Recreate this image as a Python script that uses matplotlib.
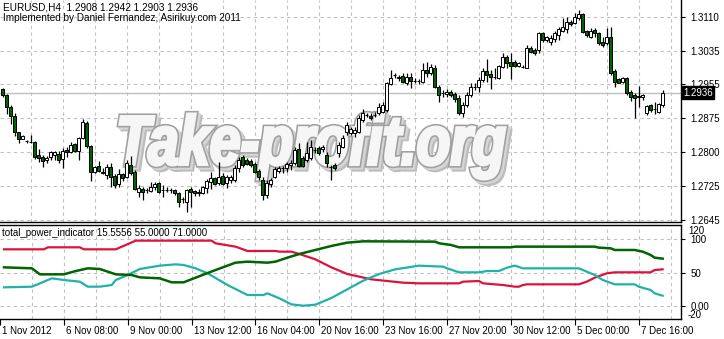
import numpy as np
import matplotlib.pyplot as plt
from matplotlib.textpath import TextPath
from matplotlib.patches import PathPatch
from matplotlib.font_manager import FontProperties
from matplotlib import transforms

# EURUSD H4 candles
opens = [1.2944, 1.2930, 1.2903, 1.2882, 1.2846, 1.2830, 1.2825, 1.2823, 1.2823, 1.2793,
         1.2788, 1.2781, 1.2788, 1.2793, 1.2795, 1.2784, 1.2804, 1.2800, 1.2818, 1.2802,
         1.2832, 1.2866, 1.2814, 1.2754, 1.2768, 1.2754, 1.2747, 1.2765, 1.2745, 1.2726,
         1.2749, 1.2742, 1.2770, 1.2754, 1.2708, 1.2715, 1.2713, 1.2710, 1.2720, 1.2729,
         1.2713, 1.2713, 1.2713, 1.2713, 1.2706, 1.2692, 1.2685, 1.2715, 1.2710, 1.2708,
         1.2706, 1.2717, 1.2731, 1.2740, 1.2729, 1.2745, 1.2729, 1.2736, 1.2736, 1.2763,
         1.2788, 1.2781, 1.2779, 1.2772, 1.2756, 1.2736, 1.2701, 1.2726, 1.2742, 1.2756,
         1.2763, 1.2763, 1.2770, 1.2775, 1.2807, 1.2786, 1.2781, 1.2786, 1.2804, 1.2809,
         1.2807, 1.2793, 1.2765, 1.2770, 1.2798, 1.2811, 1.2846, 1.2843, 1.2843, 1.2846,
         1.2873, 1.2885, 1.2882, 1.2885, 1.2889, 1.2892, 1.2896, 1.2956, 1.2976, 1.2972,
         1.2974, 1.2958, 1.2972, 1.2963, 1.2963, 1.2960, 1.2988, 1.2981, 1.2992, 1.2949,
         1.2935, 1.2933, 1.2937, 1.2933, 1.2924, 1.2889, 1.2908, 1.2930, 1.2949, 1.2949,
         1.2965, 1.2986, 1.2979, 1.2972, 1.2969, 1.2995, 1.3018, 1.3006, 1.3006, 1.2997,
         1.2995, 1.2992, 1.3038, 1.3034, 1.3034, 1.3073, 1.3057, 1.3052, 1.3059, 1.3068,
         1.3077, 1.3082, 1.3098, 1.3096, 1.3107, 1.3116, 1.3077, 1.3064, 1.3080, 1.3073,
         1.3052, 1.3050, 1.3064, 1.2986, 1.2967, 1.2960, 1.2969, 1.2937, 1.2930, 1.2928,
         1.2926, 1.2889, 1.2908, 1.2898, 1.2892, 1.2908]
highs = [1.2947, 1.2933, 1.2908, 1.2889, 1.2846, 1.2839, 1.2827, 1.2839, 1.2825, 1.2807,
         1.2793, 1.2791, 1.2802, 1.2802, 1.2802, 1.2809, 1.2811, 1.2823, 1.2820, 1.2834,
         1.2875, 1.2871, 1.2816, 1.2768, 1.2779, 1.2763, 1.2772, 1.2775, 1.2749, 1.2761,
         1.2752, 1.2781, 1.2791, 1.2759, 1.2724, 1.2720, 1.2717, 1.2731, 1.2731, 1.2731,
         1.2724, 1.2720, 1.2717, 1.2715, 1.2708, 1.2697, 1.2715, 1.2720, 1.2713, 1.2715,
         1.2722, 1.2738, 1.2754, 1.2742, 1.2777, 1.2752, 1.2747, 1.2747, 1.2770, 1.2788,
         1.2793, 1.2786, 1.2784, 1.2777, 1.2761, 1.2742, 1.2736, 1.2740, 1.2765, 1.2768,
         1.2768, 1.2777, 1.2781, 1.2811, 1.2820, 1.2791, 1.2823, 1.2827, 1.2811, 1.2814,
         1.2816, 1.2800, 1.2770, 1.2775, 1.2823, 1.2839, 1.2869, 1.2857, 1.2857, 1.2885,
         1.2898, 1.2889, 1.2889, 1.2892, 1.2912, 1.2914, 1.2960, 1.2988, 1.2981, 1.2976,
         1.2981, 1.2981, 1.2981, 1.2969, 1.2967, 1.3004, 1.3006, 1.3002, 1.2999, 1.2953,
         1.2942, 1.2944, 1.2942, 1.2937, 1.2930, 1.2914, 1.2937, 1.2958, 1.2958, 1.2972,
         1.2992, 1.3013, 1.2988, 1.2992, 1.2999, 1.3027, 1.3022, 1.3027, 1.3011, 1.3006,
         1.2999, 1.3045, 1.3043, 1.3038, 1.3075, 1.3075, 1.3066, 1.3068, 1.3077, 1.3086,
         1.3107, 1.3109, 1.3102, 1.3119, 1.3125, 1.3119, 1.3080, 1.3084, 1.3084, 1.3075,
         1.3064, 1.3084, 1.3086, 1.2990, 1.2969, 1.2972, 1.2972, 1.2942, 1.2935, 1.2951,
         1.2933, 1.2908, 1.2910, 1.2914, 1.2912, 1.2942]
lows = [1.2926, 1.2887, 1.2864, 1.2836, 1.2820, 1.2830, 1.2820, 1.2820, 1.2784, 1.2777,
        1.2765, 1.2775, 1.2781, 1.2781, 1.2775, 1.2763, 1.2788, 1.2798, 1.2800, 1.2781,
        1.2830, 1.2809, 1.2733, 1.2752, 1.2754, 1.2749, 1.2738, 1.2720, 1.2717, 1.2720,
        1.2733, 1.2740, 1.2747, 1.2713, 1.2697, 1.2690, 1.2706, 1.2708, 1.2713, 1.2706,
        1.2697, 1.2708, 1.2706, 1.2701, 1.2674, 1.2683, 1.2662, 1.2674, 1.2699, 1.2699,
        1.2703, 1.2706, 1.2715, 1.2724, 1.2724, 1.2724, 1.2717, 1.2729, 1.2731, 1.2754,
        1.2765, 1.2770, 1.2765, 1.2752, 1.2736, 1.2690, 1.2694, 1.2720, 1.2740, 1.2752,
        1.2752, 1.2754, 1.2759, 1.2770, 1.2765, 1.2765, 1.2777, 1.2781, 1.2798, 1.2793,
        1.2800, 1.2765, 1.2736, 1.2759, 1.2788, 1.2809, 1.2839, 1.2839, 1.2834, 1.2843,
        1.2869, 1.2880, 1.2873, 1.2880, 1.2885, 1.2889, 1.2892, 1.2953, 1.2969, 1.2963,
        1.2958, 1.2953, 1.2947, 1.2958, 1.2956, 1.2958, 1.2972, 1.2976, 1.2947, 1.2914,
        1.2926, 1.2926, 1.2926, 1.2914, 1.2885, 1.2880, 1.2903, 1.2926, 1.2942, 1.2937,
        1.2960, 1.2960, 1.2944, 1.2967, 1.2967, 1.2992, 1.2992, 1.2967, 1.2995, 1.2995,
        1.2992, 1.2992, 1.3027, 1.3022, 1.3027, 1.3052, 1.3052, 1.3045, 1.3052, 1.3057,
        1.3075, 1.3073, 1.3089, 1.3093, 1.3102, 1.3073, 1.3064, 1.3061, 1.3064, 1.3045,
        1.3041, 1.3045, 1.2976, 1.2949, 1.2958, 1.2958, 1.2930, 1.2917, 1.2878, 1.2903,
        1.2919, 1.2885, 1.2892, 1.2887, 1.2889, 1.2903]
closes = [1.2930, 1.2903, 1.2882, 1.2846, 1.2830, 1.2836, 1.2825, 1.2823, 1.2788, 1.2786,
          1.2779, 1.2786, 1.2800, 1.2800, 1.2781, 1.2802, 1.2800, 1.2816, 1.2802, 1.2832,
          1.2869, 1.2814, 1.2754, 1.2765, 1.2756, 1.2752, 1.2765, 1.2742, 1.2724, 1.2749,
          1.2740, 1.2775, 1.2752, 1.2715, 1.2717, 1.2708, 1.2713, 1.2720, 1.2726, 1.2708,
          1.2713, 1.2713, 1.2713, 1.2706, 1.2685, 1.2692, 1.2713, 1.2708, 1.2706, 1.2706,
          1.2720, 1.2733, 1.2740, 1.2726, 1.2742, 1.2726, 1.2742, 1.2742, 1.2763, 1.2781,
          1.2770, 1.2772, 1.2770, 1.2754, 1.2742, 1.2701, 1.2729, 1.2736, 1.2761, 1.2763,
          1.2763, 1.2772, 1.2775, 1.2804, 1.2768, 1.2768, 1.2798, 1.2811, 1.2804, 1.2798,
          1.2811, 1.2775, 1.2765, 1.2763, 1.2816, 1.2832, 1.2862, 1.2853, 1.2850, 1.2878,
          1.2889, 1.2885, 1.2878, 1.2885, 1.2903, 1.2908, 1.2958, 1.2969, 1.2976, 1.2969,
          1.2960, 1.2972, 1.2963, 1.2963, 1.2963, 1.2988, 1.2981, 1.2995, 1.2949, 1.2930,
          1.2935, 1.2937, 1.2930, 1.2921, 1.2889, 1.2908, 1.2930, 1.2949, 1.2949, 1.2965,
          1.2986, 1.2976, 1.2972, 1.2972, 1.2997, 1.3018, 1.3004, 1.2997, 1.2997, 1.3004,
          1.2995, 1.3038, 1.3029, 1.3027, 1.3073, 1.3057, 1.3064, 1.3061, 1.3073, 1.3082,
          1.3086, 1.3098, 1.3093, 1.3109, 1.3116, 1.3075, 1.3068, 1.3077, 1.3073, 1.3050,
          1.3045, 1.3064, 1.2981, 1.2960, 1.2958, 1.2969, 1.2935, 1.2926, 1.2924, 1.2926,
          1.2930, 1.2905, 1.2896, 1.2898, 1.2910, 1.2936]

price_ticks = ["1.3110", "1.3035", "1.2955", "1.2875", "1.2800", "1.2725", "1.2645"]
date_labels = ["1 Nov 2012", "6 Nov 08:00", "9 Nov 00:00", "13 Nov 12:00", "16 Nov 04:00",
               "20 Nov 16:00", "23 Nov 16:00", "27 Nov 20:00", "30 Nov 12:00",
               "5 Dec 00:00", "7 Dec 16:00"]
date_bars = [-1, 15, 31, 47, 63, 79, 95, 111, 127, 143, 159]

# total_power_indicator lines (bar index, value)
green_x = [0, 7, 9, 15, 18, 21, 24, 28, 32, 34, 39, 42, 45, 48, 53, 58, 61, 66, 68, 71, 74,
           78, 82, 86, 90, 108, 109, 112, 114, 127, 128, 148, 149, 152, 153, 158, 160, 162, 163, 165]
green_y = [58, 56.5, 47.5, 47.5, 52.5, 56.5, 55.5, 47.5, 46.5, 43, 41.5, 35.5, 35.5, 42.5, 54, 65,
           66.5, 65, 66.5, 72.5, 78, 84, 90, 95, 97, 96.5, 94, 91.5, 88, 88, 89, 89, 87.5, 86.5,
           84, 84, 81.5, 76.5, 72.5, 71]
red_x = [0, 10, 11, 19, 20, 28, 33, 52, 53, 58, 61, 68, 69, 72, 74, 78, 82, 86, 92, 100, 104,
         114, 115, 119, 120, 125, 128, 129, 130, 131, 144, 146, 148, 151, 153, 162, 163, 165]
red_y = [85, 85, 88, 88, 85, 85, 98, 98, 94, 89, 82.5, 82.5, 81.5, 81.5, 78, 70, 58, 48, 40, 35,
         34, 34, 36.5, 37.5, 34, 31.5, 29, 29, 31.5, 32.5, 32.5, 36.5, 42.5, 49, 50.5, 50.5, 54, 55]
cyan_x = [0, 7, 12, 15, 19, 21, 24, 27, 28, 31, 34, 39, 43, 45, 48, 51, 56, 61, 65, 66, 69, 72,
          75, 78, 82, 86, 90, 94, 98, 104, 110, 111, 114, 119, 121, 124, 126, 128, 130, 144, 145,
          148, 150, 153, 158, 159, 162, 163, 165]
cyan_y = [28, 29, 41.5, 39, 36.5, 29, 29, 31.5, 39, 46.5, 55.5, 60.5, 62.5, 61.5, 56.5, 49, 31.5,
          16.5, 16.5, 19, 11.5, 2.5, 0.5, 2, 12, 25, 38, 48, 55, 60.5, 59, 56.5, 50.5, 50.5, 52.5,
          52.5, 57.5, 60.5, 56.5, 56.5, 54, 46.5, 39, 32.5, 32.5, 29, 24, 19, 15.5]

W, H = 724, 339
fig = plt.figure(figsize=(W / 100, H / 100), dpi=100)
fig.patch.set_facecolor("white")
plt.rcParams["font.family"] = ["Liberation Sans", "DejaVu Sans"]

ax = fig.add_axes([0, (H - 222) / H, 681 / W, 222 / H])
ax2 = fig.add_axes([0, (H - 319.3) / H, 681 / W, (319.3 - 224.5) / H])

grid_kw = dict(color="#c0c0c0", lw=0.8, ls=(0, (3, 3)), zorder=0.5)
xlim = (-0.675, 169.6)
for a in (ax, ax2):
    a.set_xlim(*xlim)
    for gx in range(7, 170, 8):
        a.axvline(gx, **grid_kw)

# main price window
ax.set_ylim(1.26393, 1.31483)
tick_pos = [1.3110 - 0.00775 * k for k in range(len(price_ticks))]
for ty in tick_pos:
    ax.axhline(ty, **grid_kw)
ax.yaxis.tick_right()
ax.set_yticks(tick_pos)
ax.set_yticklabels(price_ticks)
ax.tick_params(axis="y", direction="out", length=3, pad=4, labelsize=7, width=0.8)
ax.set_xticks([])
for s in ("left", "top"):
    ax.spines[s].set_visible(False)
ax.spines["right"].set_linewidth(1)
ax.spines["bottom"].set_linewidth(1)

last = closes[-1]
ax.axhline(last, color="#c0c0c0", lw=1, zorder=0.6)

# watermark: thick italic letters, grey rim, soft shadow
fp = FontProperties(family="Liberation Sans", weight="bold", style="italic")
tp = TextPath((0, 0), "Take-profit.org", size=100, prop=fp)
ext = tp.get_extents()
x0, x1, ybot, ytop = 120, 505, H - 179, H - 114
sx = (x1 - x0) / ext.width
sy = (ytop - ybot) / ext.height
base = transforms.Affine2D().translate(-ext.x0, -ext.y0).scale(sx, sy)
at = lambda dx, dy: base + transforms.Affine2D().translate(x0 + dx, ybot + dy)
ax.add_patch(PathPatch(tp, transform=at(4, -4), fc="#bdbdbd", ec="#bdbdbd", lw=4.5, zorder=1.0))
ax.add_patch(PathPatch(tp, transform=at(2, -2), fc="#d6d6d6", ec="#d6d6d6", lw=4.5, zorder=1.05))
ax.add_patch(PathPatch(tp, transform=at(0, 0), fc="#a0a0a0", ec="#a0a0a0", lw=4.5, zorder=1.1))
ax.add_patch(PathPatch(tp, transform=at(0, 0), fc="#f6f6f6", ec="#f6f6f6", lw=2.2, zorder=1.2))

# candles
x = np.arange(len(closes))
o = np.array(opens)
c = np.array(closes)
ax.vlines(x, lows, highs, color="black", lw=0.9, zorder=2)
bottoms = np.minimum(o, c)
heights = np.maximum(np.abs(c - o), 0.00006)
colors = np.where(c < o, "#006400", "white")
ax.bar(x, heights, bottom=bottoms, width=0.72, color=colors, edgecolor="black",
       linewidth=0.7, zorder=3)

ax.text(1.0 + 2 / 681, last, "1.2936", transform=ax.get_yaxis_transform(), ha="left",
        va="center", color="white", fontsize=7, zorder=10, clip_on=False,
        bbox=dict(boxstyle="square,pad=0.15", fc="black", ec="black"))
ax.plot([543], [1.3145], marker="v", color="#a8a8a8", ms=6, clip_on=False, zorder=5)

fig.text(3 / W, 1 - 8 / H, "EURUSD,H4  1.2908 1.2942 1.2903 1.2936", fontsize=7.2,
         va="center", ha="left")
fig.text(3 / W, 1 - 18 / H, "Implemented by Daniel Fernandez, Asirikuy.com 2011",
         fontsize=7.2, va="center", ha="left")

# indicator window
ax2.set_ylim(-19.9, 122.2)
for gy in (100, 50, 0):
    ax2.axhline(gy, **grid_kw)
ax2.plot(red_x, red_y, color="#dc143c", lw=1.6, zorder=3)
ax2.plot(cyan_x, cyan_y, color="#20b2aa", lw=1.6, zorder=3)
ax2.plot(green_x, green_y, color="#006400", lw=1.8, zorder=4)
ax2.yaxis.tick_right()
ax2.set_yticks([100, 50, 0])
ax2.set_yticklabels(["100", "50", "0.00"])
ax2.tick_params(axis="y", direction="out", length=3, pad=4, labelsize=7, width=0.8)
ytr = ax2.get_yaxis_transform()
ax2.text(1.0 + 7 / 681, 112.4, "120", transform=ytr, fontsize=7, va="center", clip_on=False)
ax2.text(1.0 + 7 / 681, -13.5, "-20", transform=ytr, fontsize=7, va="center", clip_on=False)
ax2.spines["left"].set_visible(False)
for s in ("top", "bottom", "right"):
    ax2.spines[s].set_linewidth(1)
ax2.set_xticks(date_bars)
ax2.set_xticklabels(date_labels)
ax2.tick_params(axis="x", direction="out", length=4, pad=1, labelsize=7, width=0.8)
shift = transforms.ScaledTranslation(2 / 100, 0, fig.dpi_scale_trans)
for lbl in ax2.get_xticklabels():
    lbl.set_ha("left")
    lbl.set_transform(lbl.get_transform() + shift)
ax2.text(2 / 681, 0.91, "total_power_indicator 15.5556 55.0000 71.0000",
         transform=ax2.transAxes, fontsize=7, va="center", ha="left", zorder=6)

fig.savefig("out.png", dpi=100)
